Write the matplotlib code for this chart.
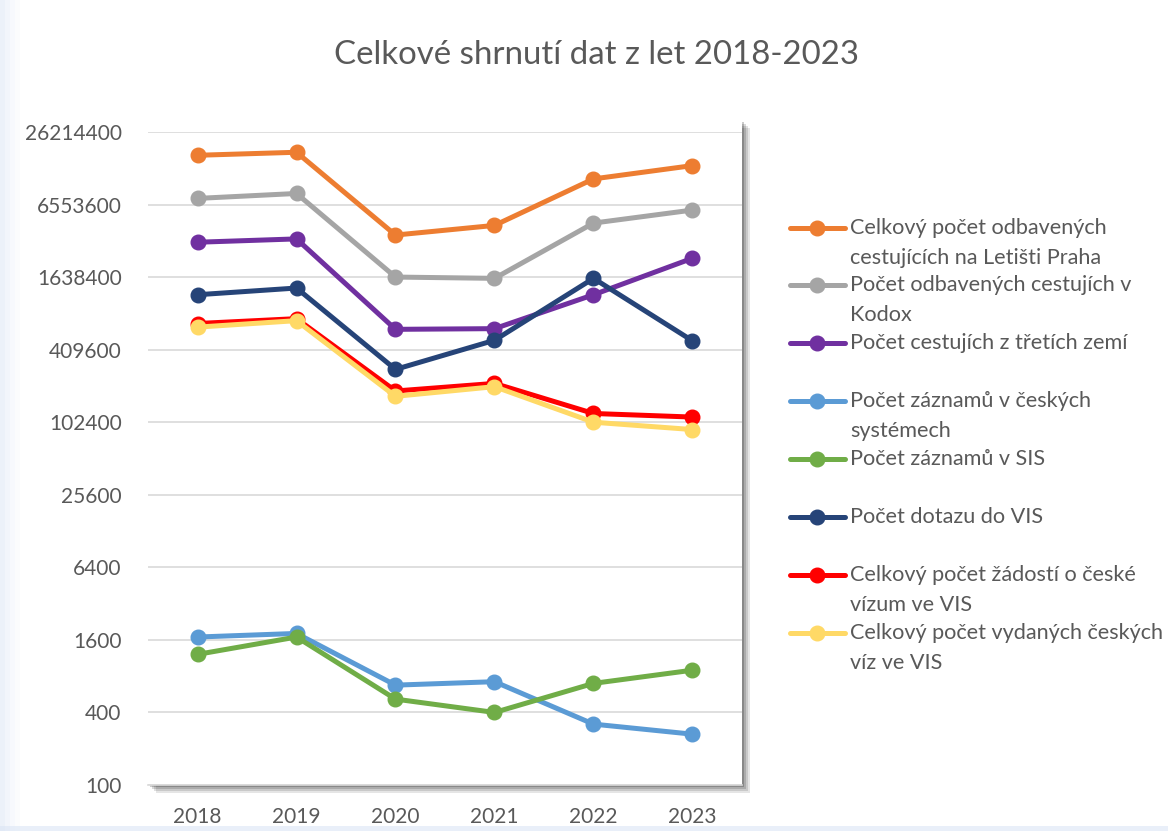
import matplotlib
matplotlib.use("Agg")
import matplotlib.pyplot as plt
from matplotlib.lines import Line2D
from matplotlib.patches import Rectangle
from matplotlib.ticker import FixedLocator, NullLocator

plt.rcParams['font.family'] = ['Lato', 'DejaVu Sans']

years = ['2018', '2019', '2020', '2021', '2022', '2023']

letiste_praha = [16800000, 17800000, 3660000, 4400000, 10700000, 13800000]
kodox = [7370000, 8100000, 1640000, 1600000, 4600000, 5900000]
treti_zeme = [3190000, 3400000, 604000, 612000, 1170000, 2350000]
zaznamy_cz = [1690, 1810, 674, 720, 320, 264]
zaznamy_sis = [1213, 1690, 516, 400, 697, 897]
dotazy_vis = [1170000, 1330000, 281000, 490000, 1600000, 485000]
zadosti_vis = [675000, 741000, 186000, 215000, 121000, 113000]
vydana_viza = [630000, 713000, 168000, 202000, 102400, 89000]

series = [
    ("Celkový počet odbavených\ncestujících na Letišti Praha", letiste_praha, '#ED7D31'),
    ("Počet odbavených cestujích v\nKodox", kodox, '#A5A5A5'),
    ("Počet cestujích z třetích zemí", treti_zeme, '#7030A0'),
    ("Počet záznamů v českých\nsystémech", zaznamy_cz, '#5B9BD5'),
    ("Počet záznamů v SIS", zaznamy_sis, '#70AD47'),
    ("Počet dotazu do VIS", dotazy_vis, '#264478'),
    ("Celkový počet žádostí o české\nvízum ve VIS", zadosti_vis, '#FF0000'),
    ("Celkový počet vydaných českých\nvíz ve VIS", vydana_viza, '#FFD966'),
]

yticks = [100, 400, 1600, 6400, 25600, 102400, 409600, 1638400, 6553600, 26214400]

W, H = 1168, 831
fig = plt.figure(figsize=(W / 100, H / 100), dpi=100)
fig.patch.set_facecolor('white')

# page edge tint (left and bottom)
for i, a in enumerate([0.5, 0.35, 0.2, 0.1]):
    fig.add_artist(Rectangle((i * 5 / W, 0), 5 / W, 1, transform=fig.transFigure,
                             color='#dbe5f5', alpha=a, lw=0, zorder=0))
fig.add_artist(Rectangle((0, 0), 1, 5 / H, transform=fig.transFigure,
                         color='#dbe5f5', alpha=0.6, lw=0, zorder=0))

# plot area
left, right, top, bottom = 148, 742, 132, 785
ax = fig.add_axes([left / W, 1 - bottom / H, (right - left) / W, (bottom - top) / H])

# drop shadow behind plot area
for k, a in enumerate([0.10, 0.12, 0.15, 0.2]):
    off = 8 - 2 * k
    fig.add_artist(Rectangle(((left + off) / W, 1 - (bottom + off) / H),
                             (right - left) / W, (bottom - top + 12) / H,
                             transform=fig.transFigure, color='#000000',
                             alpha=a, lw=0, zorder=0.5))
fig.add_artist(Rectangle((left / W, 1 - bottom / H), (right - left) / W,
                         (bottom - top + 12) / H, transform=fig.transFigure,
                         color='white', lw=0, zorder=0.6))
ax.set_zorder(1)
ax.patch.set_alpha(0)

x = list(range(len(years)))
for label, vals, color in series:
    ax.plot(x, vals, color=color, lw=3.6, marker='o', markersize=10.5,
            solid_capstyle='round', zorder=3)

ax.set_yscale('log')
ax.set_ylim(100, 26214400)
ax.yaxis.set_major_locator(FixedLocator(yticks))
ax.yaxis.set_minor_locator(NullLocator())
ax.set_yticklabels([str(v) for v in yticks])
ax.set_xlim(-0.5, len(years) - 0.5)
ax.set_xticks(x)
ax.set_xticklabels(years)

ax.grid(axis='y', color='#d9d9d9', lw=1.2)
ax.set_axisbelow(True)
for s in ['top', 'right', 'left']:
    ax.spines[s].set_visible(False)
ax.spines['bottom'].set_color('#d9d9d9')
ax.spines['bottom'].set_linewidth(1.2)
ax.tick_params(axis='both', length=0, labelsize=15, colors='#595959')
ax.tick_params(axis='y', pad=19)
ax.tick_params(axis='x', pad=16)

fig.text(596 / W, 1 - 55 / H, 'Celkové shrnutí dat z let 2018-2023',
         ha='center', va='center', fontsize=23.8, color='#595959')

# legend
rows = [228, 285, 343, 401, 459, 517, 575, 633]
for (label, vals, color), ry in zip(series, rows):
    yy = 1 - ry / H
    fig.add_artist(Line2D([790 / W, 845 / W], [yy, yy], transform=fig.transFigure,
                          color=color, lw=3.6, solid_capstyle='round'))
    fig.add_artist(Line2D([817 / W], [yy], transform=fig.transFigure, color=color,
                          marker='o', markersize=10.5))
    fig.text(850 / W, 1 - (ry - 10) / H, label, ha='left', va='top',
             fontsize=15.6, color='#595959', linespacing=1.65)

fig.savefig('out.png', dpi=100, facecolor='white')
